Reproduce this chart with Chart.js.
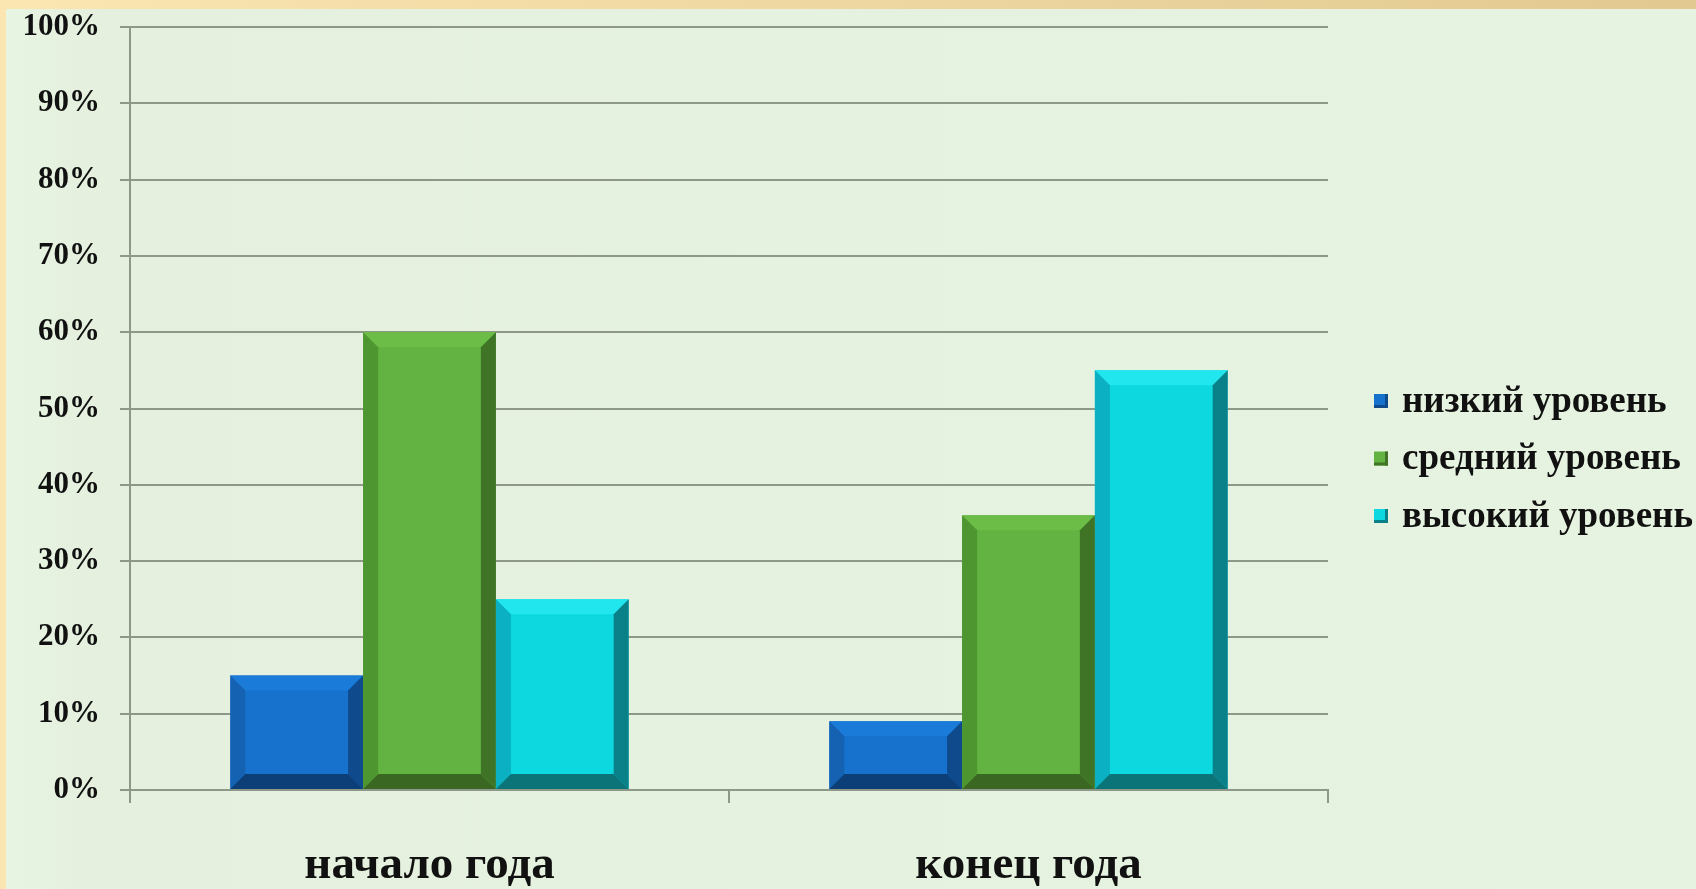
<!DOCTYPE html>
<html>
<head>
<meta charset="utf-8">
<script src="https://cdn.jsdelivr.net/npm/chart.js@4.4.0/dist/chart.umd.min.js"></script>
<style>
  html, body { margin: 0; padding: 0; background: #f6e1ad; }
  #wrap { width: 1696px; height: 889px; }
</style>
</head>
<body>
<div id="wrap"><canvas id="chart" width="1696" height="889"></canvas></div>
<script>
const categories = ['начало года', 'конец года'];
const seriesNames = ['низкий уровень', 'средний уровень', 'высокий уровень'];
const lowLevel = [15, 9];
const midLevel = [60, 36];
const highLevel = [25, 55];

// face, top, left, right, bottom bevel colours per series
const palette = [
  { face: '#1672cc', top: '#1b7bd8', left: '#1561b2', right: '#0e4a8c', bottom: '#0c3f78' },
  { face: '#62b342', top: '#6cbd48', left: '#4e962f', right: '#3f7426', bottom: '#3a6823' },
  { face: '#0dd8e0', top: '#22e6ee', left: '#0bb0c2', right: '#0a8088', bottom: '#0a7479' }
];

const serif = "'Liberation Serif', 'Times New Roman', serif";
const gridColor = '#8d9889';

const backdrop = {
  id: 'backdrop',
  beforeDraw(chart) {
    const ctx = chart.ctx;
    const w = chart.width, h = chart.height;
    ctx.save();
    const g = ctx.createLinearGradient(0, 0, w, 0);
    g.addColorStop(0, '#fbe5b0');
    g.addColorStop(1, '#e2c992');
    ctx.fillStyle = g;
    ctx.fillRect(0, 0, w, h);
    const bg = ctx.createLinearGradient(6, 0, w, 0);
    bg.addColorStop(0, '#e8f5e3');
    bg.addColorStop(0.04, '#e5f1de');
    bg.addColorStop(1, '#e6f3e1');
    ctx.fillStyle = bg;
    ctx.fillRect(6, 9, w - 6, h - 9);
    ctx.restore();
  }
};

const bevel = {
  id: 'bevel',
  afterDatasetsDraw(chart) {
    const ctx = chart.ctx;
    chart.data.datasets.forEach((ds, i) => {
      const meta = chart.getDatasetMeta(i);
      const c = palette[i];
      meta.data.forEach(bar => {
        const p = bar.getProps(['x', 'y', 'base', 'width'], true);
        const l = p.x - p.width / 2, r = p.x + p.width / 2;
        const t = p.y, b = p.base;
        const s = Math.min(15, (b - t) / 2, p.width / 2);
        const poly = (pts, col) => {
          ctx.beginPath();
          ctx.moveTo(pts[0][0], pts[0][1]);
          for (let k = 1; k < pts.length; k++) ctx.lineTo(pts[k][0], pts[k][1]);
          ctx.closePath();
          ctx.fillStyle = col;
          ctx.fill();
        };
        ctx.save();
        poly([[l, t], [r, t], [r - s, t + s], [l + s, t + s]], c.top);
        poly([[l, t], [l + s, t + s], [l + s, b - s], [l, b]], c.left);
        poly([[r, t], [r, b], [r - s, b - s], [r - s, t + s]], c.right);
        poly([[l, b], [l + s, b - s], [r - s, b - s], [r, b]], c.bottom);
        ctx.restore();
      });
    });
  }
};

const sideLegend = {
  id: 'sideLegend',
  afterDraw(chart) {
    const ctx = chart.ctx;
    const area = chart.chartArea;
    const x0 = area.right + 46;
    const y0 = area.bottom - 389;
    ctx.save();
    ctx.font = 'bold 37px ' + serif;
    ctx.textBaseline = 'middle';
    chart.data.datasets.forEach((ds, i) => {
      const y = y0 + i * 57.5;
      const c = palette[i];
      ctx.fillStyle = c.face;
      ctx.fillRect(x0, y - 7, 14, 14);
      ctx.fillStyle = c.right;
      ctx.fillRect(x0, y + 4, 14, 3);
      ctx.fillRect(x0 + 11, y - 7, 3, 14);
      ctx.fillStyle = '#111';
      ctx.fillText(ds.label, x0 + 28, y + 1);
    });
    ctx.restore();
  }
};

new Chart(document.getElementById('chart'), {
  type: 'bar',
  data: {
    labels: categories,
    datasets: [
      { label: seriesNames[0], data: lowLevel, backgroundColor: palette[0].face },
      { label: seriesNames[1], data: midLevel, backgroundColor: palette[1].face },
      { label: seriesNames[2], data: highLevel, backgroundColor: palette[2].face }
    ]
  },
  options: {
    responsive: false,
    animation: false,
    layout: { padding: { top: 27, right: 368, bottom: 0, left: 0 } },
    datasets: { bar: { categoryPercentage: 0.665, barPercentage: 1, borderWidth: 0 } },
    plugins: { legend: { display: false }, tooltip: { enabled: false } },
    scales: {
      x: {
        grid: { offset: true, drawOnChartArea: false, drawTicks: true, tickLength: 13, color: gridColor, lineWidth: 2 },
        border: { display: true, color: gridColor, width: 2 },
        ticks: { color: '#111', padding: 35, font: { family: serif, size: 47, weight: 'bold' } },
        afterFit(scale) { scale.height = 99; }
      },
      y: {
        min: 0, max: 100,
        grid: { color: gridColor, lineWidth: 2, tickLength: 10 },
        border: { display: true, color: gridColor, width: 2 },
        ticks: {
          stepSize: 10, padding: 20, color: '#111',
          font: { family: serif, size: 31, weight: 'bold' },
          callback: v => v + '%'
        },
        afterFit(scale) { scale.width = 130; scale.paddingTop = 0; scale.paddingBottom = 0; }
      }
    }
  },
  plugins: [backdrop, bevel, sideLegend]
});
</script>
</body>
</html>
